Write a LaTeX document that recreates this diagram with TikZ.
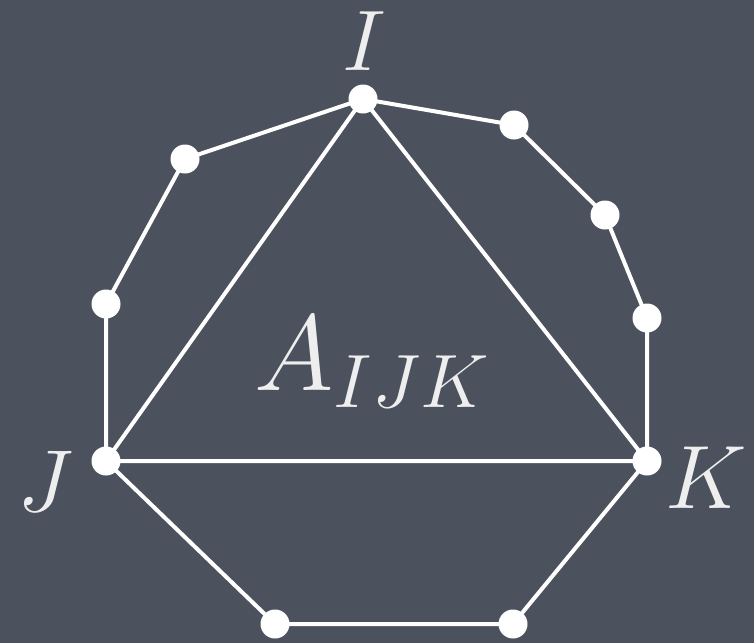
\RequirePackage{fix-cm}
\documentclass[tikz,border=0pt]{standalone}
\begin{document}
\begin{tikzpicture}[x=1pt,y=-1pt,
  dot/.style={circle,fill=white,inner sep=0pt,minimum size=29pt},
  edge/.style={draw=white,line width=4pt},
  lbl/.style={text=labelgray,inner sep=0pt}]
\definecolor{bg}{HTML}{4B515D}
\definecolor{labelgray}{HTML}{EEEEEE}
\fill[bg] (0,0) rectangle (754,643);
\useasboundingbox (0,0) rectangle (754,643);
\coordinate (I) at (363,99);
\coordinate (p1) at (514,125);
\coordinate (p2) at (605,215);
\coordinate (p3) at (647,318);
\coordinate (K) at (647,461);
\coordinate (p4) at (513,624);
\coordinate (p5) at (275,624);
\coordinate (J) at (106,461);
\coordinate (p6) at (106,304);
\coordinate (p7) at (185,159);
\draw[edge,line join=round] (I) -- (p1) -- (p2) -- (p3) -- (K) -- (p4) -- (p5) -- (J) -- (p6) -- (p7) -- cycle;
\draw[edge,line join=round] (I) -- (J) -- (K) -- cycle;
\foreach \p in {I,p1,p2,p3,K,p4,p5,J,p6,p7}
  \node[dot] at (\p) {};
\node[lbl,font=\fontsize{86}{86}\selectfont] (lI) at (364,41) {$I$};
\node[lbl,font=\fontsize{88}{88}\selectfont] (lJ) at (45,481) {$J$};
\node[lbl,font=\fontsize{90}{90}\selectfont] (lK) at (706,478) {$K$};
\node[lbl,font=\fontsize{108}{108}\selectfont] (lA) at (372,362) {$A_{IJK}$};
\end{tikzpicture}
\end{document}
